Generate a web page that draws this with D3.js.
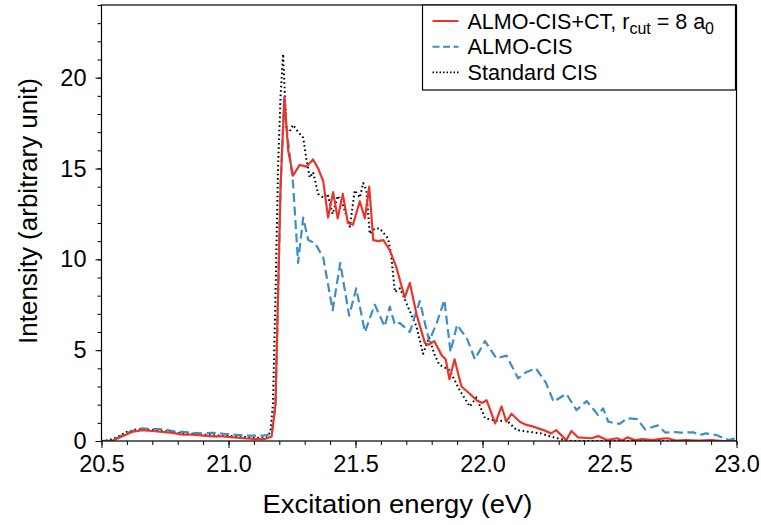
<!DOCTYPE html>
<html>
<head>
<meta charset="utf-8">
<script src="https://cdn.jsdelivr.net/npm/d3@7"></script>
<style>
  body { margin: 0; background: #fff; }
  text { font-family: "Liberation Sans", Arial, sans-serif; fill: #000; }
</style>
</head>
<body>
<div id="chart"></div>
<script>

// spectra, [excitation energy (eV), intensity]
var standardCIS = [
  [20.50,0],[20.53,0.05],[20.56,0.2],[20.60,0.5],[20.64,0.65],[20.68,0.62],[20.72,0.6],[20.76,0.52],
  [20.80,0.45],[20.84,0.42],[20.88,0.38],[20.92,0.33],[20.96,0.3],[21.00,0.28],[21.04,0.25],[21.08,0.2],
  [21.12,0.18],[21.15,0.2],[21.165,0.5],[21.175,2],[21.185,8],[21.195,15],[21.205,19],[21.215,21.3],
  [21.228,17.1],[21.24,17.0],[21.254,17.4],[21.275,17.0],[21.294,16.7],[21.307,15.5],[21.32,14.5],[21.333,14.8],
  [21.353,13.6],[21.373,13.4],[21.39,13.6],[21.41,12.5],[21.43,13.5],[21.45,13.0],[21.478,11.8],[21.497,13.8],
  [21.517,13.4],[21.53,14.2],[21.543,13.8],[21.556,11.4],[21.576,11.7],[21.596,11.7],[21.628,11.15],[21.64,10.3],
  [21.655,8.2],[21.675,8.4],[21.70,7.6],[21.74,6.3],[21.766,4.8],[21.79,5.7],[21.81,4.8],[21.83,4.2],
  [21.87,3.9],[21.91,2.8],[21.95,1.9],[21.976,2.4],[22.01,1.25],[22.04,1.15],[22.07,1.1],[22.094,1.15],
  [22.134,0.6],[22.16,0.55],[22.186,0.5],[22.23,0.42],[22.27,0.24],[22.31,0.1],[22.35,0],[23.0,0]
];

var almoCisCT = [
  [20.50,0],[20.54,0],[20.58,0.25],[20.62,0.5],[20.66,0.6],[20.70,0.55],[20.74,0.5],[20.78,0.45],
  [20.82,0.35],[20.86,0.35],[20.90,0.3],[20.94,0.25],[20.98,0.25],[21.02,0.2],[21.06,0.15],[21.10,0.12],
  [21.14,0.1],[21.17,0.25],[21.185,2],[21.195,8],[21.205,14],[21.22,18.95],[21.235,16.0],[21.254,14.6],
  [21.28,15.2],[21.306,15.1],[21.333,15.5],[21.353,15.0],[21.373,14.3],[21.392,12.3],[21.412,13.7],[21.43,12.25],
  [21.45,13.6],[21.47,12.0],[21.49,11.9],[21.517,13.2],[21.537,12.25],[21.554,14.0],[21.57,11.06],[21.59,11.0],
  [21.61,11.06],[21.635,10.5],[21.66,9.6],[21.694,7.9],[21.714,8.7],[21.74,7.0],[21.773,5.4],[21.79,5.3],
  [21.81,5.5],[21.84,4.7],[21.855,4.5],[21.87,3.4],[21.89,4.5],[21.917,3.0],[21.95,2.6],[21.98,2.2],
  [22.0,2.1],[22.016,2.25],[22.05,0.97],[22.075,1.9],[22.094,1.06],[22.114,1.5],[22.147,1.06],[22.17,0.9],
  [22.2,0.79],[22.24,0.6],[22.27,0.42],[22.29,0.6],[22.33,0.05],[22.35,0.55],[22.376,0.2],[22.43,0.15],
  [22.455,0.27],[22.49,0.05],[22.53,0.15],[22.55,0.03],[22.57,0.2],[22.6,0.05],[22.63,0.1],[22.67,0.05],
  [22.70,0.12],[22.73,0.15],[22.76,0.02],[22.8,0.05],[22.85,0.02],[22.9,0.05],[22.95,0],[23.0,0]
];

var almoCis = [
  [20.50,0],[20.54,0.02],[20.58,0.3],[20.62,0.55],[20.66,0.7],[20.70,0.65],[20.74,0.65],[20.78,0.55],
  [20.82,0.5],[20.86,0.45],[20.90,0.42],[20.94,0.45],[20.98,0.4],[21.02,0.35],[21.06,0.3],[21.10,0.3],
  [21.14,0.3],[21.17,0.4],[21.185,2],[21.195,8],[21.205,14],[21.22,18.95],[21.228,17.3],[21.254,14.2],
  [21.274,9.8],[21.294,12.3],[21.314,11.06],[21.34,10.9],[21.373,10.1],[21.41,7.2],[21.44,9.8],[21.475,6.9],
  [21.503,8.4],[21.537,6.0],[21.576,7.5],[21.615,6.3],[21.635,7.4],[21.655,6.4],[21.674,6.5],[21.714,6.0],
  [21.753,7.7],[21.79,5.5],[21.82,6.5],[21.85,7.76],[21.874,4.9],[21.9,6.4],[21.94,5.6],[21.97,4.5],
  [22.01,5.5],[22.055,4.55],[22.094,4.7],[22.14,3.45],[22.173,3.8],[22.21,4.0],[22.25,3.2],[22.28,2.16],
  [22.33,2.6],[22.37,1.7],[22.41,2.2],[22.455,1.43],[22.475,1.8],[22.495,1.06],[22.54,0.94],[22.57,1.25],
  [22.61,1.2],[22.64,0.64],[22.69,0.86],[22.72,0.46],[22.75,0.5],[22.78,0.46],[22.83,0.48],[22.855,0.33],
  [22.88,0.42],[22.92,0.33],[22.95,0.15],[22.97,0.05],[22.99,0.13],[23.0,0.15]
];

var xTicks = [20.5, 21.0, 21.5, 22.0, 22.5, 23.0];
var yTicks = [0, 5, 10, 15, 20];

var params = {
  width: 635, height: 436,
  margin_left: 101.5, margin_top: 5
};

var x = d3.scaleLinear().domain([20.5, 23.0]).range([0, params.width]);
var y = d3.scaleLinear().domain([0, 24]).range([params.height, 0]);

var svg = d3.select("#chart")
            .append("svg")
            .attr("width", 761)
            .attr("height", 525)
            .append("g")
                .attr("transform", "translate(" + params.margin_left + "," + params.margin_top + ")");

svg.append("clipPath").attr("id", "plotclip")
    .append("rect").attr("width", params.width).attr("height", params.height);

// the curves
var line = d3.line()
             .x(function(d) { return x(d[0]); })
             .y(function(d) { return y(d[1]); });

var series = [
  { name: "std", data: standardCIS, color: "#000", width: 2, dash: "1.6,2.8" },
  { name: "almo", data: almoCis, color: "#3d8ec6", width: 2.2, dash: "9,4.5" },
  { name: "ct", data: almoCisCT, color: "#e8372a", width: 2.2, dash: null }
];

svg.append("g")
    .attr("clip-path", "url(#plotclip)")
    .selectAll("path")
    .data(series).enter()
    .append("path")
        .attr("d", function(d) { return line(d.data); })
        .attr("fill", "none")
        .attr("stroke", function(d) { return d.color; })
        .attr("stroke-width", function(d) { return d.width; })
        .attr("stroke-dasharray", function(d) { return d.dash; })
        .attr("stroke-linejoin", "round");

// x axis with minor ticks
svg.append("g")
    .attr("class", "axis")
    .attr("transform", "translate(0," + params.height + ")")
    .call(d3.axisBottom(x).tickValues(d3.range(20.5, 23.001, 0.1)).tickSize(4).tickFormat(""));

svg.append("g")
    .attr("class", "axis")
    .attr("transform", "translate(0," + params.height + ")")
    .call(d3.axisBottom(x).tickValues(xTicks).tickSize(7).tickPadding(7).tickFormat(d3.format(".1f")));

// y axis with minor ticks
svg.append("g")
    .attr("class", "axis")
    .call(d3.axisLeft(y).tickValues(d3.range(0, 25, 1)).tickSize(4).tickFormat(""));

svg.append("g")
    .attr("class", "axis")
    .call(d3.axisLeft(y).tickValues(yTicks).tickSize(6).tickPadding(9).tickFormat(d3.format("d")));

svg.selectAll(".axis .domain").remove();
svg.selectAll(".axis line").attr("stroke", "#000").attr("stroke-width", 1);
svg.selectAll(".axis text")
    .style("font-family", "'Liberation Sans', Arial, sans-serif")
    .style("font-size", "23.5px")
    .attr("fill", "#000");

// frame
svg.append("rect")
    .attr("width", params.width)
    .attr("height", params.height)
    .attr("fill", "none")
    .attr("stroke", "#000")
    .attr("stroke-width", 1.2);

// axis labels
svg.append("text")
    .attr("x", 296)
    .attr("y", 508)
    .attr("text-anchor", "middle")
    .style("font-size", "26px")
    .attr("textLength", 270)
    .attr("lengthAdjust", "spacingAndGlyphs")
    .text("Excitation energy (eV)");

svg.append("text")
    .attr("transform", "rotate(-90)")
    .attr("x", -206)
    .attr("y", -65)
    .attr("text-anchor", "middle")
    .style("font-size", "26px")
    .text("Intensity (arbitrary unit)");

// legend
var legend = svg.append("g").attr("transform", "translate(" + (422.5 - params.margin_left) + ",0)");

legend.append("rect")
    .attr("width", 313)
    .attr("height", 85)
    .attr("fill", "#fff")
    .attr("stroke", "#000")
    .attr("stroke-width", 1.2);

var legendRows = [series[2], series[1], series[0]];

var rows = legend.selectAll(".legend")
    .data(legendRows).enter()
    .append("g")
        .attr("class", "legend")
        .attr("transform", function(d, i) { return "translate(0," + (16 + i * 25.7) + ")"; });

rows.append("line")
    .attr("x1", 10).attr("x2", 36)
    .attr("stroke", function(d) { return d.color; })
    .attr("stroke-width", function(d) { return d.name == "std" ? 1.6 : 2; })
    .attr("stroke-dasharray", function(d) { return d.name == "almo" ? "7,3.5" : (d.name == "std" ? "1.5,2" : null); });

var labels = rows.append("text")
    .attr("x", 45)
    .attr("y", 7.5)
    .style("font-size", "21.5px");

labels.filter(function(d) { return d.name != "ct"; })
    .text(function(d) { return d.name == "almo" ? "ALMO-CIS" : "Standard CIS"; })
    .attr("textLength", function(d) { return d.name == "almo" ? 105 : 130; })
    .attr("lengthAdjust", "spacingAndGlyphs");

var ct = labels.filter(function(d) { return d.name == "ct"; });
ct.append("tspan").text("ALMO-CIS+CT, r");
ct.append("tspan").attr("dy", 5).style("font-size", "16px").text("cut");
ct.append("tspan").attr("dy", -5).text(" = 8 a");
ct.append("tspan").attr("dy", 5).style("font-size", "16px").text("0");

</script>
</body>
</html>
